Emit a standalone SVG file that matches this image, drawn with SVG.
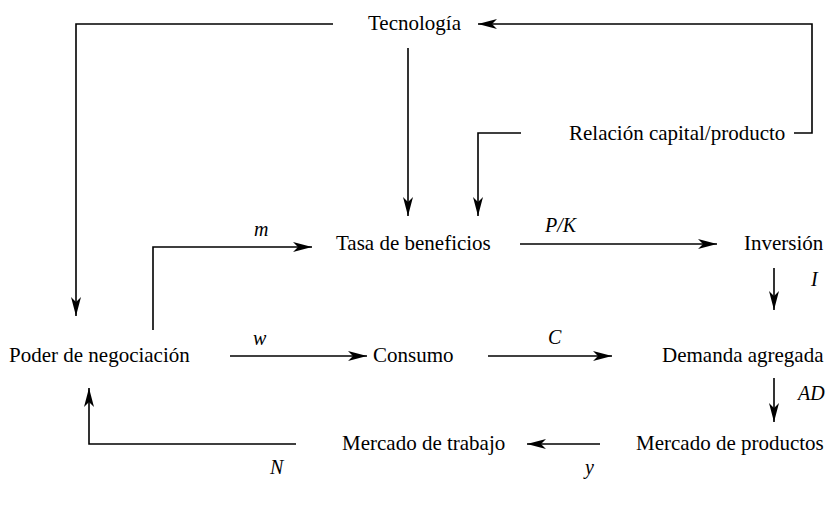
<svg xmlns="http://www.w3.org/2000/svg" width="829" height="508" viewBox="0 0 829 508">
<defs>
<marker id="ah" markerUnits="userSpaceOnUse" markerWidth="20" markerHeight="12" viewBox="0 0 20 12" refX="19" refY="6" orient="auto">
<path d="M0,1 L19,6 L0,11 L5,6 z" fill="#000"/>
</marker>
<style>
.t{font-family:"Liberation Serif","Times New Roman",serif;font-size:21px;fill:#000}
.l{font-family:"Liberation Serif","Times New Roman",serif;font-size:20px;font-style:italic;fill:#000}
.c{fill:none;stroke:#000;stroke-width:1.6}
.a{marker-end:url(#ah)}
</style>
</defs>
<rect width="829" height="508" fill="#fff"/>
<g id="n-tecnologia"><text class="t" x="368" y="30">Tecnología</text></g>
<g id="n-relacion"><text class="t" x="569" y="140">Relación capital/producto</text></g>
<g id="n-tasa"><text class="t" x="336" y="250">Tasa de beneficios</text></g>
<g id="n-inversion"><text class="t" x="744" y="250">Inversión</text></g>
<g id="n-poder"><text class="t" x="9" y="362">Poder de negociación</text></g>
<g id="n-consumo"><text class="t" x="373" y="362">Consumo</text></g>
<g id="n-demanda"><text class="t" x="662" y="362">Demanda agregada</text></g>
<g id="n-trabajo"><text class="t" x="342" y="450">Mercado de trabajo</text></g>
<g id="n-productos"><text class="t" x="636" y="450">Mercado de productos</text></g>
<g id="connectors">
<path class="c a" d="M333,24 H76 V316"/>
<path class="c a" d="M408,48 V216"/>
<path class="c a" d="M794,133 H812 V24 H478"/>
<path class="c a" d="M521,133 H478 V216"/>
<path class="c a" d="M153,330 V247 H312"/>
<path class="c a" d="M520,244 H717"/>
<path class="c a" d="M774,268 V310"/>
<path class="c a" d="M230,356 H367"/>
<path class="c a" d="M488,356 H612"/>
<path class="c a" d="M774,378 V422"/>
<path class="c a" d="M600,444 H527"/>
<path class="c a" d="M296,444 H89 V388"/>
<text class="l" x="254" y="236">m</text>
<text class="l" x="545" y="232">P/K</text>
<text class="l" x="811" y="286">I</text>
<text class="l" x="253" y="345">w</text>
<text class="l" x="548" y="344">C</text>
<text class="l" x="798" y="400">AD</text>
<text class="l" x="585" y="474">y</text>
<text class="l" x="270" y="474">N</text>
</g>
</svg>
